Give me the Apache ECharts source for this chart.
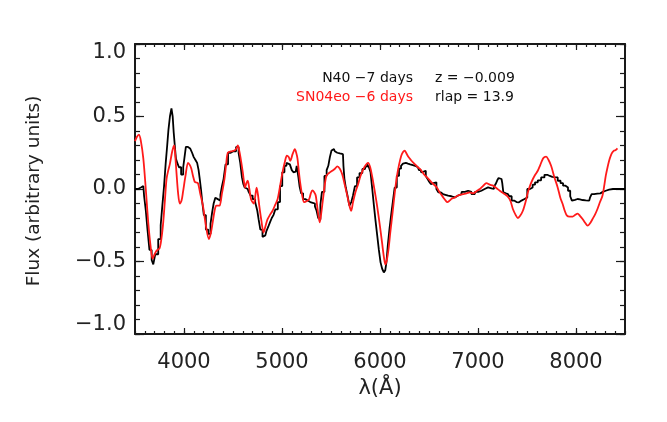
<!DOCTYPE html>
<html>
<head>
<meta charset="utf-8">
<script src="https://cdn.jsdelivr.net/npm/echarts@6/dist/echarts.min.js"></script>
<style>html,body{margin:0;padding:0;background:#fff}#c{width:667px;height:422px}</style>
</head>
<body>
<div id="c"></div>
<script>
// Template spectrum (black, binned)
const waveBlack = [3500,3530,3560,3585,3601,3620,3635,3660,3680,3693,3720,3754,3770,3788,3805,3822,3835,3848,3865,3879,3890,3900,3912,3923,3940,3957,3984,4000,4007,4031,4050,4075,4090,4109,4125,4143,4155,4166,4180,4193,4212,4234,4261,4280,4295,4310,4329,4345,4363,4380,4395,4413,4435,4464,4490,4514,4549,4565,4583,4600,4610,4630,4650,4670,4690,4711,4741,4755,4768,4790,4812,4830,4852,4868,4886,4905,4920,4945,4970,4990,5015,5035,5056,5070,5090,5110,5124,5140,5160,5175,5185,5205,5226,5250,5277,5300,5327,5345,5361,5378,5388,5395,5420,5446,5465,5480,5497,5513,5530,5547,5564,5590,5622,5632,5642,5660,5676,5699,5715,5733,5755,5777,5805,5835,5860,5879,5895,5912,5930,5946,5963,5980,5997,6014,6030,6048,6060,6071,6088,6105,6122,6139,6160,6183,6205,6224,6245,6264,6285,6308,6335,6359,6386,6410,6427,6445,6460,6475,6494,6510,6528,6545,6565,6586,6605,6630,6655,6680,6710,6748,6780,6815,6850,6883,6915,6951,6985,7019,7050,7086,7120,7154,7172,7188,7205,7215,7240,7255,7262,7285,7306,7330,7357,7380,7407,7430,7458,7490,7516,7545,7570,7594,7627,7661,7695,7720,7746,7770,7797,7830,7855,7881,7905,7932,7950,7966,7990,8016,8040,8067,8100,8135,8150,8169,8200,8236,8260,8287,8320,8355,8400,8456,8500];
const fluxBlack = [0.0,0.0,0.01,0.02,-0.05,-0.15,-0.28,-0.42,-0.49,-0.52,-0.45,-0.345,-0.25,-0.115,0.02,0.18,0.3,0.41,0.5,0.556,0.5,0.39,0.3,0.21,0.18,0.15,0.10,0.15,0.21,0.29,0.28,0.27,0.25,0.22,0.2,0.18,0.13,0.07,0.0,-0.09,-0.18,-0.28,-0.31,-0.24,-0.16,-0.1,-0.06,-0.07,-0.08,-0.04,0.02,0.07,0.17,0.25,0.26,0.26,0.29,0.25,0.18,0.08,0.035,0.01,0.0,-0.02,-0.045,-0.07,-0.09,-0.15,-0.21,-0.28,-0.33,-0.32,-0.29,-0.26,-0.23,-0.2,-0.18,-0.14,-0.09,0.02,0.115,0.16,0.18,0.17,0.16,0.13,0.115,0.12,0.16,0.08,0.015,-0.03,-0.07,-0.08,-0.09,-0.095,-0.10,-0.12,-0.15,-0.20,-0.21,-0.11,-0.02,0.09,0.13,0.16,0.22,0.265,0.275,0.26,0.25,0.245,0.24,0.16,0.07,0.01,-0.045,-0.115,-0.09,-0.046,0.02,0.08,0.11,0.138,0.155,0.17,0.15,0.115,0.0,-0.115,-0.22,-0.32,-0.42,-0.506,-0.55,-0.575,-0.56,-0.506,-0.39,-0.276,-0.18,-0.09,0.01,0.09,0.14,0.16,0.175,0.18,0.175,0.17,0.165,0.16,0.15,0.13,0.115,0.12,0.126,0.09,0.07,0.05,0.034,0.04,0.046,0.0,-0.023,-0.035,-0.04,-0.046,-0.05,-0.058,-0.045,-0.035,-0.02,-0.012,-0.02,-0.035,-0.02,-0.012,0.0,0.011,0.005,0.0,0.015,0.034,0.06,0.076,0.069,0.04,-0.023,-0.03,-0.035,-0.05,-0.08,-0.09,-0.092,-0.08,-0.069,-0.058,0.0,0.011,0.03,0.046,0.06,0.08,0.098,0.09,0.084,0.082,0.08,0.057,0.04,0.023,0.01,-0.012,-0.05,-0.08,-0.075,-0.069,-0.072,-0.076,-0.078,-0.08,-0.06,-0.035,-0.032,-0.03,-0.02,-0.012,-0.005,0.0,0.0,0.0,0.0];

// Comparison spectrum (red, smooth)
const waveRed = [3500,3520,3540,3560,3585,3610,3635,3660,3680,3700,3720,3750,3770,3788,3805,3822,3840,3855,3880,3900,3912,3923,3940,3957,3975,3990,4015,4041,4060,4075,4092,4109,4125,4143,4165,4193,4225,4254,4275,4295,4312,4329,4346,4363,4385,4413,4430,4447,4480,4514,4535,4549,4562,4576,4600,4612,4623,4637,4650,4667,4684,4711,4725,4741,4755,4768,4790,4812,4830,4852,4880,4904,4930,4955,4980,5005,5030,5050,5068,5085,5108,5131,5145,5158,5172,5185,5205,5226,5250,5277,5294,5310,5327,5344,5365,5385,5400,5422,5452,5480,5513,5540,5564,5590,5615,5640,5666,5690,5706,5725,5750,5775,5801,5840,5879,5900,5919,5945,5970,6000,6021,6040,6055,6070,6088,6105,6129,6150,6173,6195,6217,6235,6251,6270,6291,6315,6342,6365,6386,6410,6450,6494,6535,6579,6610,6646,6670,6687,6710,6731,6760,6782,6815,6849,6883,6917,6950,6985,7019,7050,7086,7120,7154,7190,7222,7250,7272,7300,7330,7357,7385,7407,7430,7458,7485,7509,7535,7560,7585,7610,7635,7661,7680,7695,7720,7746,7780,7813,7840,7864,7885,7908,7935,7966,7990,8016,8040,8067,8095,8118,8140,8169,8195,8219,8245,8270,8290,8304,8322,8338,8355,8372,8390,8406,8423];
const fluxRed = [0.33,0.36,0.375,0.33,0.21,0.0,-0.23,-0.40,-0.48,-0.45,-0.425,-0.41,-0.34,-0.23,-0.08,0.07,0.13,0.17,0.26,0.30,0.22,0.115,-0.03,-0.10,-0.08,-0.02,0.09,0.18,0.165,0.14,0.09,0.05,0.045,0.04,-0.03,-0.115,-0.26,-0.345,-0.3,-0.22,-0.15,-0.115,-0.115,-0.115,-0.04,0.07,0.17,0.25,0.26,0.265,0.28,0.30,0.27,0.22,0.115,0.05,0.01,0.04,0.057,0.0,-0.07,-0.10,-0.06,0.01,-0.04,-0.115,-0.22,-0.30,-0.26,-0.21,-0.175,-0.15,-0.11,-0.07,0.02,0.115,0.19,0.23,0.22,0.195,0.24,0.275,0.25,0.21,0.12,0.045,-0.04,-0.09,-0.085,-0.07,-0.03,-0.01,-0.02,-0.045,-0.15,-0.23,-0.17,-0.05,0.09,0.11,0.126,0.14,0.156,0.14,0.10,0.03,-0.046,-0.12,-0.15,-0.09,-0.02,0.03,0.09,0.15,0.18,0.15,0.09,-0.01,-0.115,-0.26,-0.37,-0.47,-0.52,-0.49,-0.41,-0.3,-0.16,-0.03,0.09,0.17,0.23,0.255,0.265,0.245,0.22,0.2,0.18,0.165,0.15,0.138,0.1,0.07,0.04,0.011,-0.025,-0.058,-0.08,-0.09,-0.08,-0.067,-0.06,-0.05,-0.04,-0.035,-0.03,-0.023,-0.03,-0.015,0.0,0.02,0.04,0.03,0.023,0.005,-0.012,-0.025,-0.035,-0.05,-0.08,-0.14,-0.18,-0.2,-0.185,-0.15,-0.09,-0.023,0.03,0.069,0.1,0.126,0.165,0.207,0.22,0.223,0.2,0.16,0.08,0.011,-0.06,-0.104,-0.15,-0.184,-0.19,-0.19,-0.18,-0.17,-0.185,-0.207,-0.235,-0.253,-0.24,-0.207,-0.175,-0.138,-0.09,-0.046,0.03,0.092,0.15,0.195,0.23,0.253,0.265,0.269,0.28];

const xTickLabels = [4000,5000,6000,7000,8000];
const yTickLabels = [-1.0,-0.5,0.0,0.5,1.0];
const xTitle = 'λ(Å)';
const yTitle = 'Flux (arbitrary units)';
const legendNames = ['N40 −7 days','SN04eo −6 days'];
const legendStats = ['z = −0.009','rlap = 13.9'];

const FONT = 'DejaVu Sans';
const AX = '#1a1a1a';
const chart = echarts.init(document.getElementById('c'), null, {renderer:'canvas'});

function zip(a,b){return a.map((v,i)=>[v,b[i]]);}
const xMinor=[], yMinor=[];
for(let v=3500; v<=8500; v+=100) xMinor.push(v);
for(let k=-10; k<=10; k++) yMinor.push(k/10);

function xAx(pos, ticks, len, showLine, labels){
  return {type:'value', gridIndex:0, position:pos, min:3500, max:8500,
    axisLine:{show:showLine, onZero:false, lineStyle:{color:AX,width:2}},
    axisTick:{show:true, inside:true, length:len, customValues:ticks, lineStyle:{color:AX,width:1.2}},
    axisLabel:labels?{show:true, customValues:xTickLabels, margin:18, color:'#222', fontFamily:FONT, fontSize:21,
      formatter:v=>String(Math.round(v))}:{show:false},
    splitLine:{show:false}};
}
function yAx(pos, ticks, len, showLine, labels){
  return {type:'value', gridIndex:0, position:pos, min:-1.0, max:1.0,
    axisLine:{show:showLine, onZero:false, lineStyle:{color:AX,width:2}},
    axisTick:{show:true, inside:true, length:len, customValues:ticks, lineStyle:{color:AX,width:1.2}},
    axisLabel:labels?{show:true, customValues:yTickLabels, margin:9, color:'#222', fontFamily:FONT, fontSize:21,
      formatter:function(v){
        const s=(v<0?'−':'')+Math.abs(v).toFixed(1);
        if(v>=0.999) return '{top|'+s+'}';
        if(v<=-0.999) return '{bot|'+s+'}';
        return s;
      },
      rich:{
        top:{fontFamily:FONT, fontSize:21, color:'#222', padding:[17,0,0,0]},
        bot:{fontFamily:FONT, fontSize:21, color:'#222', padding:[0,0,18,0]}
      }}:{show:false},
    splitLine:{show:false}};
}

chart.setOption({
  animation:false,
  backgroundColor:'#fff',
  grid:{left:135, right:42, top:44, bottom:88, containLabel:false},
  xAxis:[
    xAx('bottom', xMinor, 3, true, true),
    xAx('bottom', xTickLabels, 6, false, false),
    xAx('top', xMinor, 3, true, false),
    xAx('top', xTickLabels, 6, false, false)
  ],
  yAxis:[
    yAx('left', yMinor, 5, true, true),
    yAx('left', yTickLabels, 9, false, false),
    yAx('right', yMinor, 5, true, false),
    yAx('right', yTickLabels, 9, false, false)
  ],
  series:[
    {type:'line', name:legendNames[0], xAxisIndex:0, yAxisIndex:0, data:zip(waveBlack,fluxBlack),
      step:'middle', showSymbol:false, lineStyle:{color:'#000', width:1.8}, z:2},
    {type:'line', name:legendNames[1], xAxisIndex:0, yAxisIndex:0, data:zip(waveRed,fluxRed),
      smooth:0.3, showSymbol:false, lineStyle:{color:'#ff1a1a', width:1.8}, z:3}
  ],
  graphic:[
    {type:'text', x:380, y:389, style:{text:xTitle, font:'21px "DejaVu Sans"', fill:'#222', align:'center', verticalAlign:'middle'}},
    {type:'text', x:34, y:191, rotation:Math.PI/2, style:{text:yTitle, font:'18.5px "DejaVu Sans"', fill:'#222', align:'center', verticalAlign:'middle'}},
    {type:'text', x:413, y:78, style:{text:legendNames[0], font:'14px "DejaVu Sans"', fill:'#111', align:'right', verticalAlign:'middle'}},
    {type:'text', x:413, y:97, style:{text:legendNames[1], font:'14px "DejaVu Sans"', fill:'#ff1a1a', align:'right', verticalAlign:'middle'}},
    {type:'text', x:435, y:78, style:{text:legendStats[0], font:'14px "DejaVu Sans"', fill:'#111', align:'left', verticalAlign:'middle'}},
    {type:'text', x:435, y:97, style:{text:legendStats[1], font:'14px "DejaVu Sans"', fill:'#111', align:'left', verticalAlign:'middle'}}
  ]
});
</script>
</body>
</html>
